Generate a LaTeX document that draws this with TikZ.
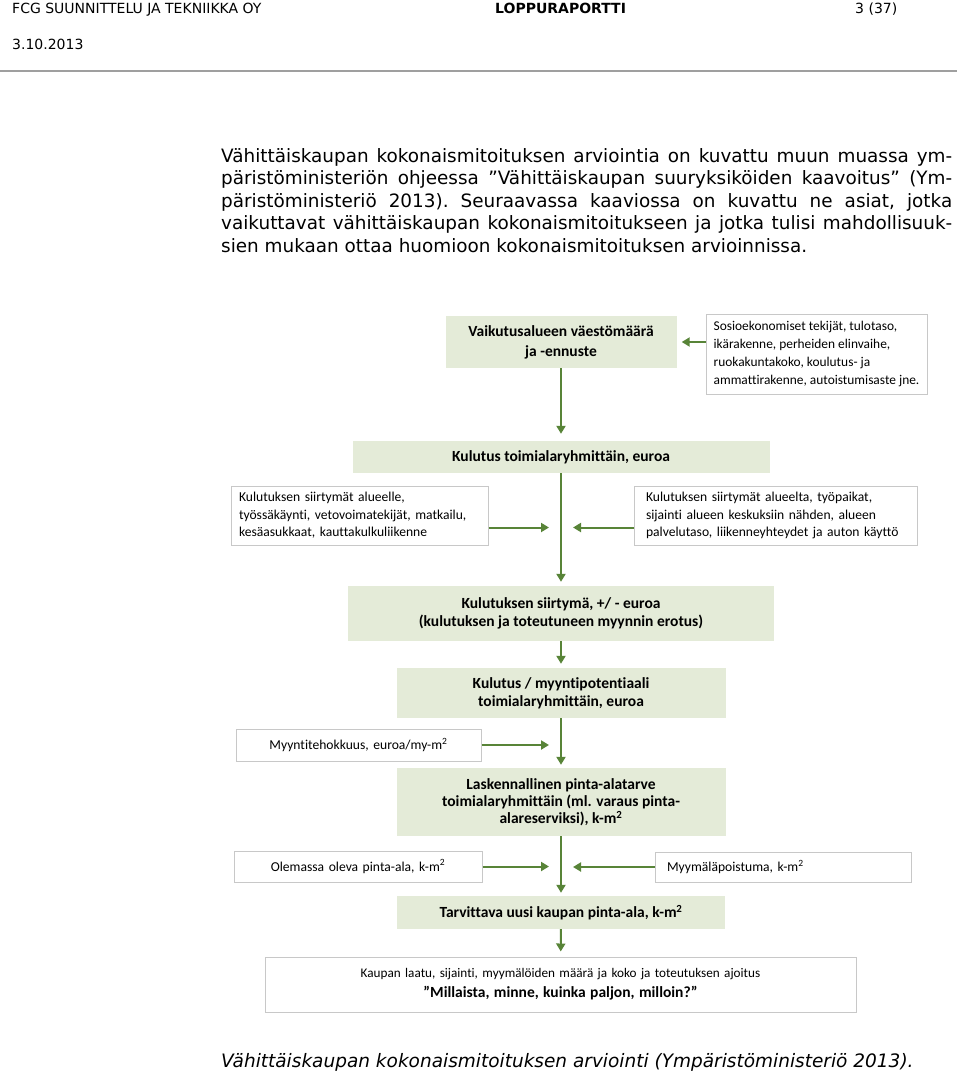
\documentclass[tikz,border=0pt]{standalone}
\usepackage{fontspec}
\setmainfont{Carlito}[Ligatures=CommonOff]
\newfontfamily\pagefont{DejaVu Sans}
\usetikzlibrary{arrows.meta}
\definecolor{boxgreen}{RGB}{228,235,216}
\definecolor{arrowgreen}{RGB}{88,132,56}
\definecolor{boxgray}{RGB}{200,200,200}

\begin{document}
\begin{tikzpicture}[x=1pt,y=-1pt,
    headtext/.style={anchor=base west,inner sep=0pt,font=\pagefont\fontsize{14}{16}\selectfont},
    bodyline/.style={anchor=base west,inner sep=0pt,font=\pagefont\fontsize{18.4}{22.5}\selectfont\frenchspacing},
    greenbox/.style={fill=boxgreen,inner sep=0pt,align=center,
      font=\fontsize{15.5}{18}\selectfont\bfseries},
    whitebox/.style={draw=boxgray,line width=1pt,fill=white,inner xsep=8pt,inner ysep=0pt,
      font=\fontsize{13.6}{17.5}\selectfont},
    arr/.style={draw=arrowgreen,line width=2pt,-{Triangle[length=8pt,width=9pt]}}]
  \useasboundingbox (0,0) rectangle (960,1073);
  \node[headtext] (firm) at (12,14) {FCG SUUNNITTELU JA TEKNIIKKA OY};
  \node[headtext,font=\pagefont\bfseries\fontsize{14}{16}\selectfont] (report) at (495,14) {LOPPURAPORTTI};
  \node[headtext] (page) at (855,14) {3 (37)};
  \node[headtext] (date) at (12,49) {3.10.2013};
  \draw[gray!75,line width=2pt] (0,71) -- (957,71);

  \node[bodyline] (line1) at (221,162) {\makebox[731pt][s]{Vähittäiskaupan kokonaismitoituksen arviointia on kuvattu muun muassa ym-}};
  \node[bodyline] (line2) at (221,184.5) {\makebox[731pt][s]{päristöministeriön ohjeessa ”Vähittäiskaupan suuryksiköiden kaavoitus” (Ym-}};
  \node[bodyline] (line3) at (221,207) {\makebox[731pt][s]{päristöministeriö 2013). Seuraavassa kaaviossa on kuvattu ne asiat, jotka}};
  \node[bodyline] (line4) at (221,229.5) {\makebox[731pt][s]{vaikuttavat vähittäiskaupan kokonaismitoitukseen ja jotka tulisi mahdollisuuk-}};
  \node[bodyline] (line5) at (221,252) {sien mukaan ottaa huomioon kokonaismitoituksen arvioinnissa.};

  \node[greenbox,minimum width=231pt,minimum height=52pt,font=\fontsize{15.5}{20}\selectfont\bfseries] (vaesto) at (561,342)
    {Vaikutusalueen väestömäärä\\ja -ennuste};
  \node[whitebox,minimum width=221pt,minimum height=80pt,inner xsep=0pt,align=left,
    font=\fontsize{13.4}{18}\selectfont] (sosio) at (816.5,354)
    {Sosioekonomiset tekijät, tulotaso,\\ ikärakenne, perheiden elinvaihe,\\ ruokakuntakoko, koulutus- ja\\ ammattirakenne, autoistumisaste jne.};
  \node[greenbox,minimum width=417pt,minimum height=32pt] (kulutus) at (561,457)
    {Kulutus toimialaryhmittäin, euroa};
  \node[whitebox,minimum height=59pt,text width=241pt,align=left] (alueelle) at (359.5,515.5)
    {Kulutuksen siirtymät alueelle,\\ työssäkäynti, vetovoimatekijät, matkailu,\\ kesäasukkaat, kauttakulkuliikenne};
  \node[whitebox,minimum height=59pt,text width=259pt,inner xsep=12pt,align=left] (alueelta) at (775.5,515.5)
    {Kulutuksen siirtymät alueelta, työpaikat,\\ sijainti alueen keskuksiin nähden, alueen\\ palvelutaso, liikenneyhteydet ja auton käyttö};
  \node[greenbox,minimum width=426pt,minimum height=55pt] (siirtyma) at (561,613.5)
    {Kulutuksen siirtymä, +/ - euroa\\ (kulutuksen ja toteutuneen myynnin erotus)};
  \node[greenbox,minimum width=329pt,minimum height=50pt] (potentiaali) at (561,693)
    {Kulutus / myyntipotentiaali\\ toimialaryhmittäin, euroa};
  \node[whitebox,minimum height=32pt,text width=229pt,align=center] (teho) at (358.5,745)
    {Myyntitehokkuus, euroa/my-m\textsuperscript{2}};
  \node[greenbox,minimum width=329pt,minimum height=68pt,font=\fontsize{15.5}{17}\selectfont\bfseries] (laskennallinen) at (561,802)
    {Laskennallinen pinta-alatarve\\ toimialaryhmittäin (ml. varaus pinta-\\ alareserviksi), k-m\textsuperscript{2}};
  \node[whitebox,minimum height=31pt,text width=232pt,align=center] (olemassa) at (358,866.5)
    {Olemassa oleva pinta-ala, k-m\textsuperscript{2}};
  \node[whitebox,minimum height=30pt,text width=232pt,align=left,inner xsep=12pt] (poistuma) at (783,867)
    {Myymäläpoistuma, k-m\textsuperscript{2}};
  \node[greenbox,minimum width=328pt,minimum height=33pt] (tarvittava) at (561,912.5)
    {Tarvittava uusi kaupan pinta-ala, k-m\textsuperscript{2}};
  \node[whitebox,minimum height=55pt,text width=575pt,align=center,font=\fontsize{13.2}{20}\selectfont] (kaupan) at (560.5,984.5)
    {Kaupan laatu, sijainti, myymälöiden määrä ja koko ja toteutuksen ajoitus\\
     \textbf{\fontsize{15.5}{20}\selectfont ”Millaista, minne, kuinka paljon, milloin?”}};

  \draw[arr,shorten >=5pt] (sosio.west |- vaesto.east) -- (vaesto.east);
  \draw[arr,shorten >=7pt] (vaesto) -- (kulutus);
  \draw[arr,shorten >=4pt] (kulutus) -- (siirtyma);
  \draw[arr,shorten >=12pt] ([yshift=-12pt]alueelle.east) -- ([yshift=-12pt]alueelle.east -| kulutus.south);
  \draw[arr,shorten >=12pt] ([yshift=-12pt]alueelta.west) -- ([yshift=-12pt]alueelta.west -| kulutus.south);
  \draw[arr,shorten >=4pt] (siirtyma) -- (potentiaali);
  \draw[arr,shorten >=3pt] (potentiaali) -- (laskennallinen);
  \draw[arr,shorten >=12pt] (teho.east) -- (teho.east -| potentiaali.south);
  \draw[arr,shorten >=3pt] (laskennallinen) -- (tarvittava);
  \draw[arr,shorten >=12pt] (olemassa.east) -- (olemassa.east -| laskennallinen.south);
  \draw[arr,shorten >=12pt] (poistuma.west) -- (poistuma.west -| laskennallinen.south);
  \draw[arr,shorten >=5pt] (tarvittava) -- (kaupan);

  \node (caption) at (221,1067) [anchor=base west,inner sep=0pt,font=\pagefont\itshape\fontsize{18.5}{20}\selectfont]
    {Vähittäiskaupan kokonaismitoituksen arviointi (Ympäristöministeriö 2013).};
\end{tikzpicture}
\end{document}
